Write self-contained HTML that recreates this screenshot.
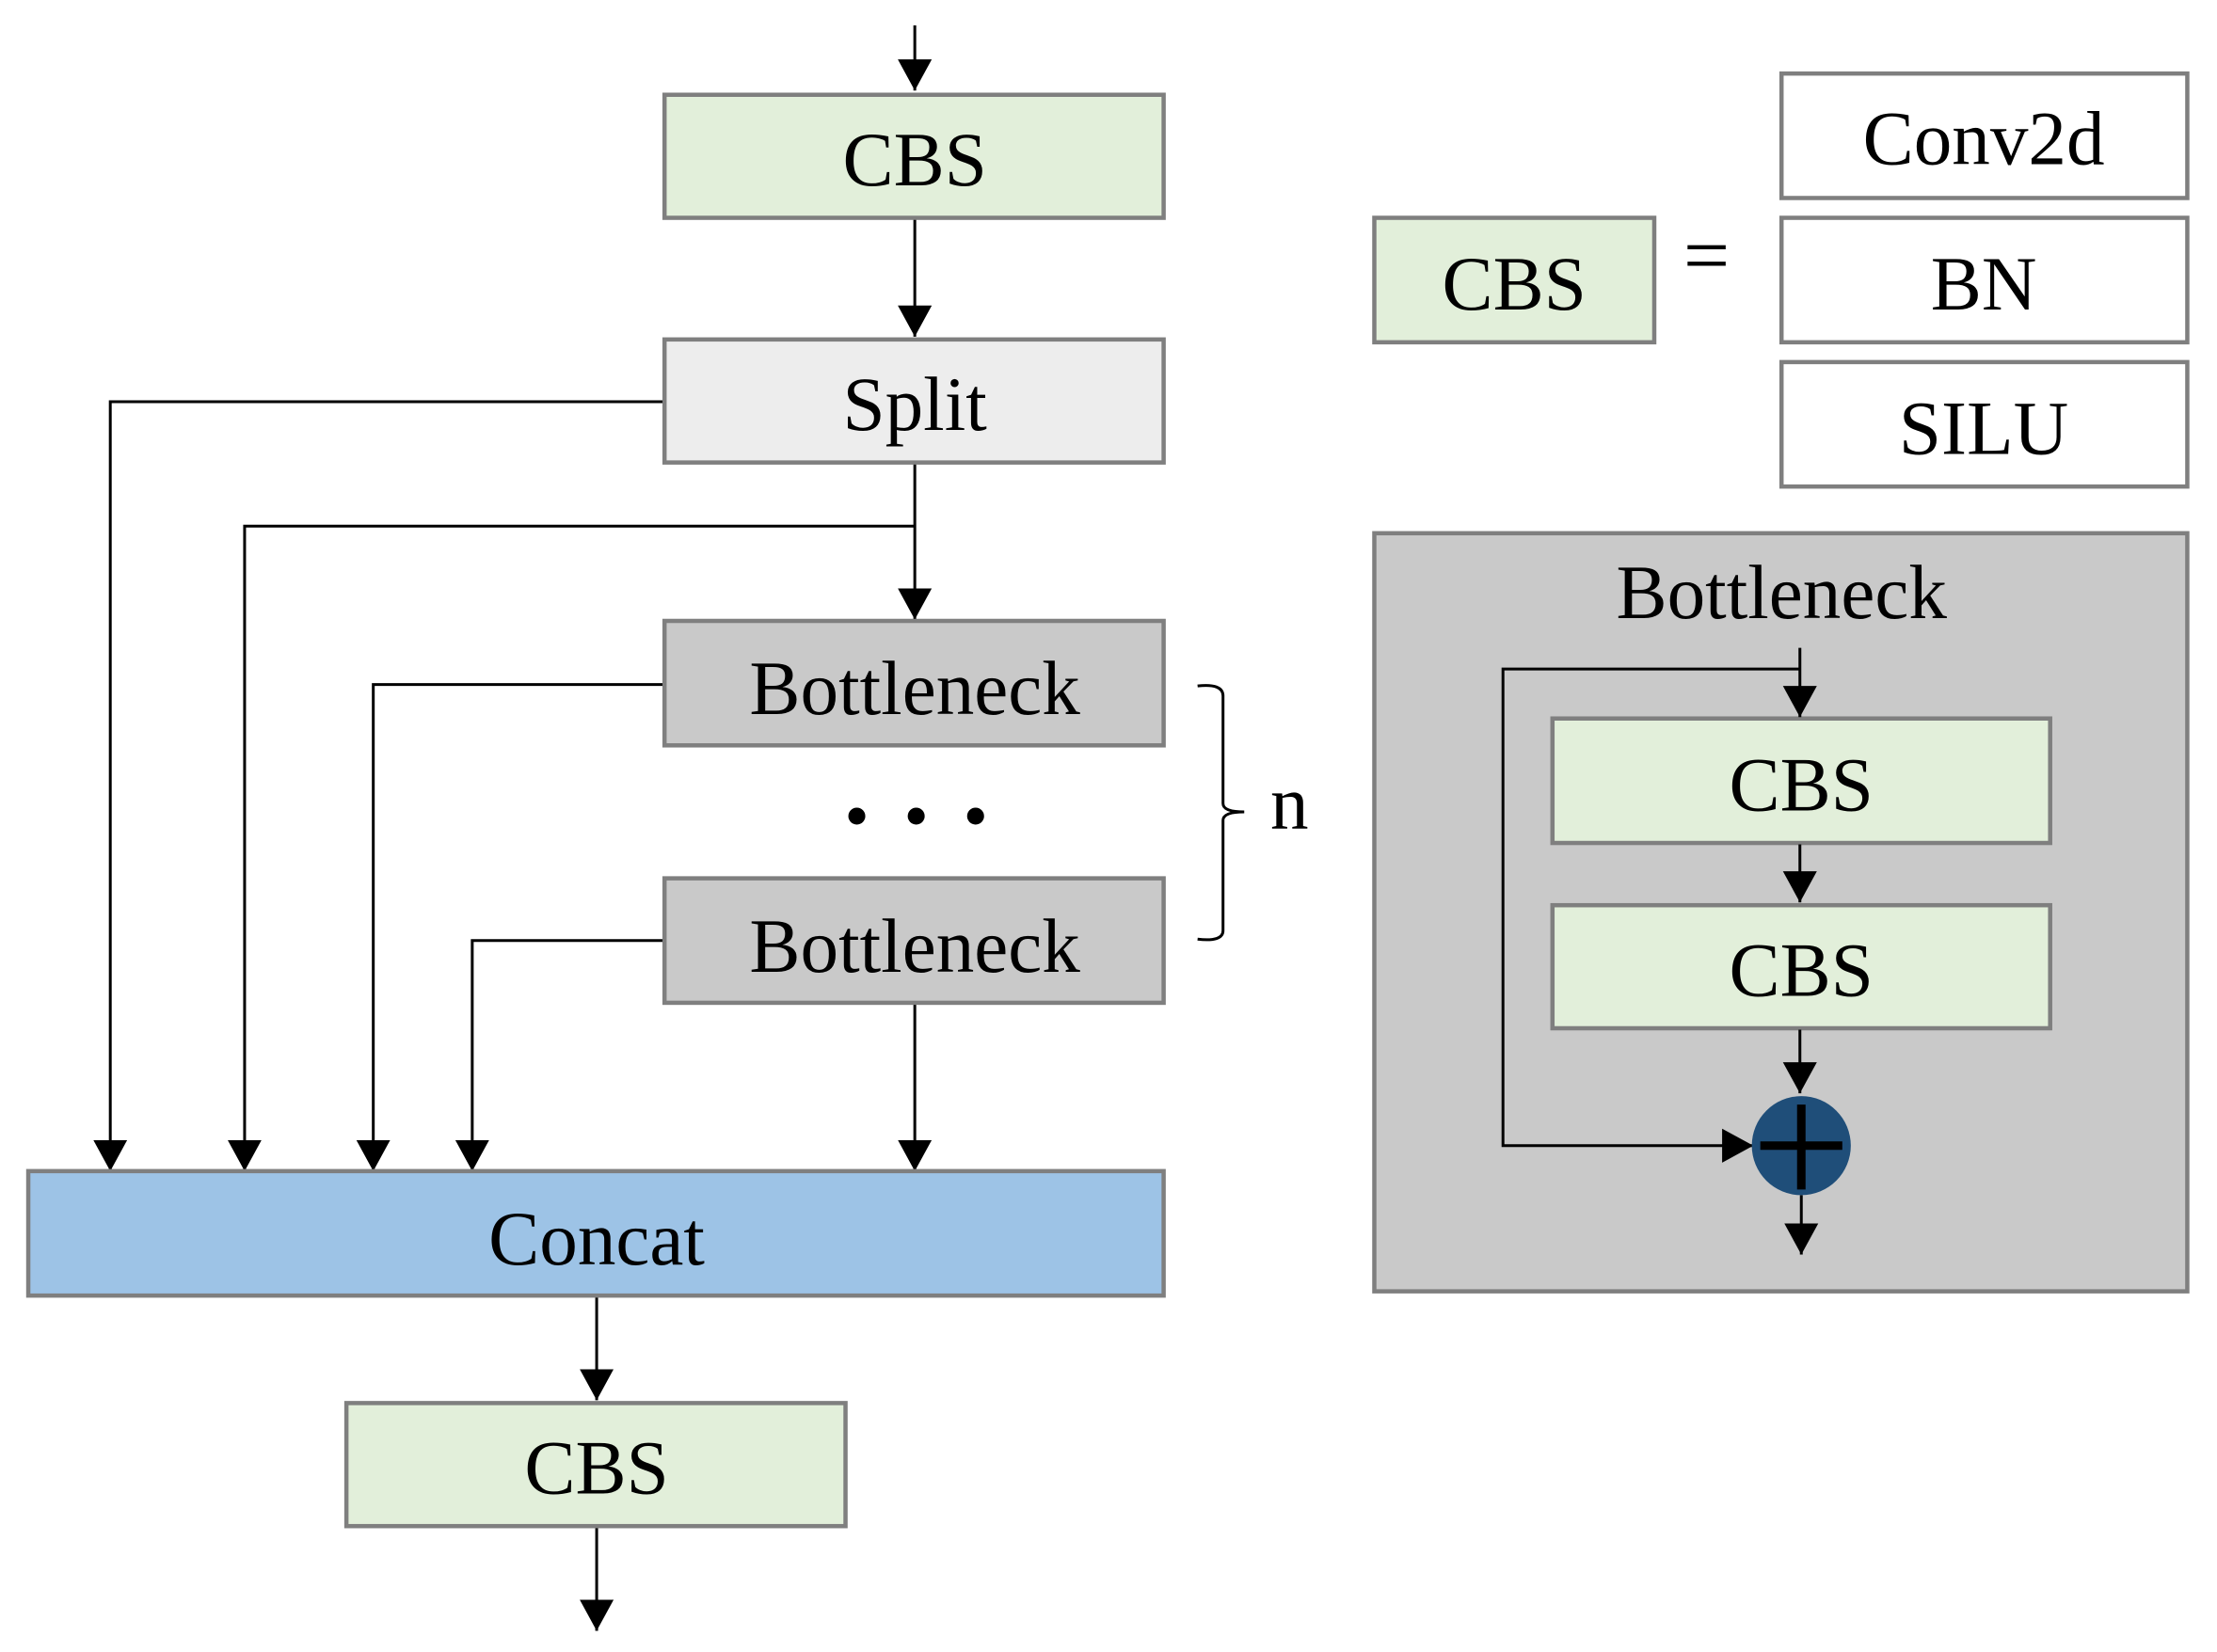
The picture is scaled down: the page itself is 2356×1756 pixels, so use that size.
<!DOCTYPE html>
<html><head><style>html,body{margin:0;padding:0;background:#fff}svg{display:block}</style></head>
<body>
<svg width="2356" height="1756" viewBox="0 0 1568 1168" preserveAspectRatio="none" xmlns="http://www.w3.org/2000/svg">
<defs>
<marker id="b" markerWidth="22" markerHeight="24" refX="22" refY="12" orient="auto" markerUnits="userSpaceOnUse" viewBox="0 0 22 24">
<path d="M0,0 L22,12 L0,24 z" fill="#000"/></marker>
</defs>
<g font-family="'Liberation Serif', serif" font-size="54" text-anchor="middle" fill="#000">
<g stroke="#000" stroke-width="2" fill="none" marker-end="url(#b)">
<line x1="647" y1="18" x2="647" y2="64"/>
<line x1="647" y1="155" x2="647" y2="238"/>
<polyline points="470,284 78,284 78,828"/>
<line x1="647" y1="328" x2="647" y2="438"/>
<polyline points="647,372 173,372 173,828"/>
<polyline points="470,484 264,484 264,828"/>
<polyline points="470,665 334,665 334,828"/>
<line x1="647" y1="710" x2="647" y2="828"/>
<line x1="422" y1="917" x2="422" y2="990"/>
<line x1="422" y1="1080" x2="422" y2="1153"/>
</g>
<g stroke="#7f7f7f" stroke-width="3">
<rect x="470" y="67" width="353" height="87" fill="#e2efda"/>
<rect x="470" y="240" width="353" height="87" fill="#ededed"/>
<rect x="470" y="439" width="353" height="88" fill="#c9c9c9"/>
<rect x="470" y="621" width="353" height="88" fill="#c9c9c9"/>
<rect x="20" y="828" width="803" height="88" fill="#9dc3e6"/>
<rect x="245" y="992" width="353" height="87" fill="#e2efda"/>
<rect x="1260" y="52" width="287" height="88" fill="#fff"/>
<rect x="1260" y="154" width="287" height="88" fill="#fff"/>
<rect x="1260" y="256" width="287" height="88" fill="#fff"/>
<rect x="972" y="154" width="198" height="88" fill="#e2efda"/>
<rect x="972" y="377" width="575" height="536" fill="#c9c9c9"/>
<rect x="1098" y="508" width="352" height="88" fill="#e2efda"/>
<rect x="1098" y="640" width="352" height="87" fill="#e2efda"/>
</g>
<text x="647" y="131">CBS</text>
<text x="647" y="304">Split</text>
<text x="647" y="505">Bottleneck</text>
<text x="647" y="687">Bottleneck</text>
<text x="422" y="894">Concat</text>
<text x="422" y="1056">CBS</text>
<text x="1403" y="116">Conv2d</text>
<text x="1403" y="219">BN</text>
<text x="1403" y="321">SILU</text>
<text x="1071" y="219">CBS</text>
<text x="1207" y="200" font-size="58">=</text>
<text x="1260" y="437">Bottleneck</text>
<text x="1274" y="573">CBS</text>
<text x="1274" y="704">CBS</text>
<text x="912" y="586">n</text>
<circle cx="606" cy="577" r="6"/><circle cx="648" cy="577" r="6"/><circle cx="690" cy="577" r="6"/>
<path d="M847,485 Q865,483 865,492 L865,568 Q865,574 880,574 Q865,574 865,580 L865,658 Q865,666 847,664" stroke="#000" stroke-width="2" fill="none"/>
<g stroke="#000" stroke-width="2" fill="none" marker-end="url(#b)">
<line x1="1273" y1="458" x2="1273" y2="507"/>
<polyline points="1273,473 1063,473 1063,810 1240,810"/>
<line x1="1273" y1="597" x2="1273" y2="638"/>
<line x1="1273" y1="728" x2="1273" y2="773"/>
<line x1="1274" y1="845" x2="1274" y2="887"/>
</g>
<circle cx="1274" cy="810" r="35" fill="#1f4e79"/>
<line x1="1245" y1="810" x2="1303" y2="810" stroke="#000" stroke-width="6"/>
<line x1="1274" y1="781" x2="1274" y2="841" stroke="#000" stroke-width="6"/>
</g>
</svg>
</body></html>
